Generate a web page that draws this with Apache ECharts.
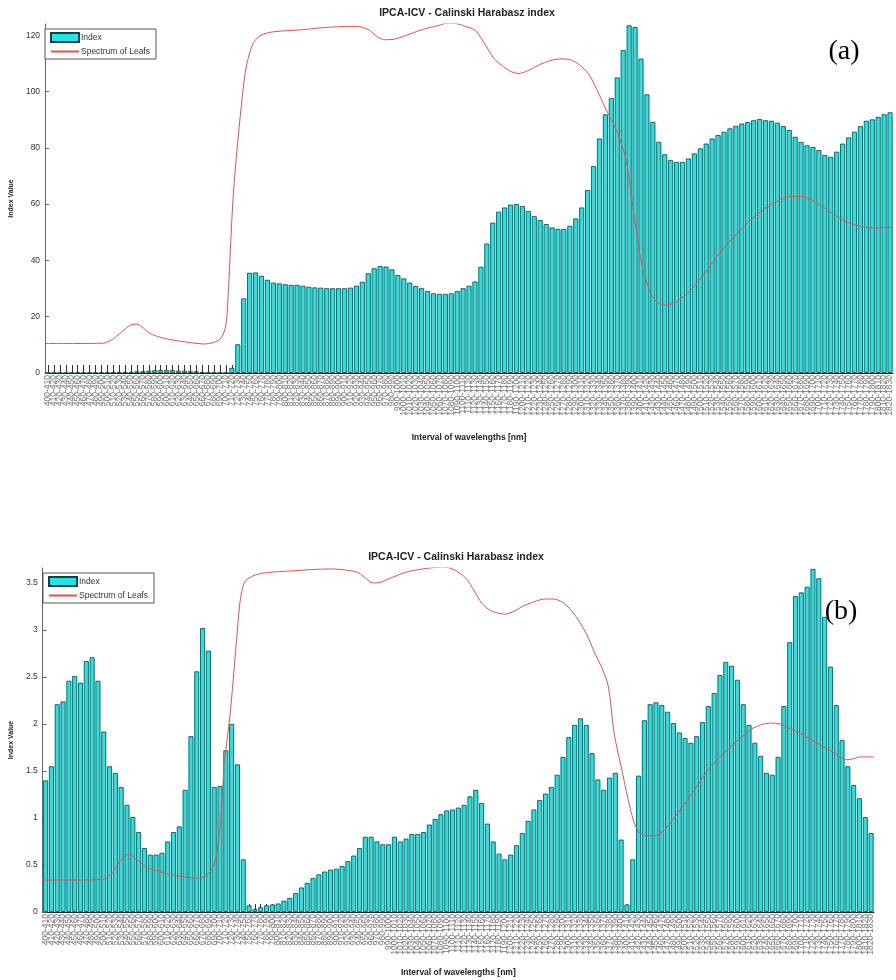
<!DOCTYPE html>
<html><head><meta charset="utf-8">
<script src="https://cdn.jsdelivr.net/npm/echarts@6/dist/echarts.min.js"></script>
<style>html,body{margin:0;padding:0;background:#fff}#c{width:896px;height:980px}</style>
</head><body><div id="c"></div>
<script>
// Wavelength intervals [nm] (category labels)
const categories = [
"400-410","410-420","420-430","430-440","440-450","450-460","460-470","470-480","480-490","490-500",
"500-510","510-520","520-530","530-540","540-550","550-560","560-570","570-580","580-590","590-600",
"600-610","610-620","620-630","630-640","640-650","650-660","660-670","670-680","680-690","690-700",
"700-710","710-720","720-730","730-740","740-750","750-760","760-770","770-780","780-790","790-800",
"800-810","810-820","820-830","830-840","840-850","850-860","860-870","870-880","880-890","890-900",
"900-910","910-920","920-930","930-940","940-950","950-960","960-970","970-980","980-990","990-1000",
"1000-1010","1010-1020","1020-1030","1030-1040","1040-1050","1050-1060","1060-1070","1070-1080","1080-1090","1090-1100",
"1100-1110","1110-1120","1120-1130","1130-1140","1140-1150","1150-1160","1160-1170","1170-1180","1180-1190","1190-1200",
"1200-1210","1210-1220","1220-1230","1230-1240","1240-1250","1250-1260","1260-1270","1270-1280","1280-1290","1290-1300",
"1300-1310","1310-1320","1320-1330","1330-1340","1340-1350","1350-1360","1360-1370","1370-1380","1380-1390","1390-1400",
"1400-1410","1410-1420","1420-1430","1430-1440","1440-1450","1450-1460","1460-1470","1470-1480","1480-1490","1490-1500",
"1500-1510","1510-1520","1520-1530","1530-1540","1540-1550","1550-1560","1560-1570","1570-1580","1580-1590","1590-1600",
"1600-1610","1610-1620","1620-1630","1630-1640","1640-1650","1650-1660","1660-1670","1670-1680","1680-1690","1690-1700",
"1700-1710","1710-1720","1720-1730","1730-1740","1740-1750","1750-1760","1760-1770","1770-1780","1780-1790","1790-1800",
"1800-1810","1810-1820","1820-1830"
];

// Panel (a) Calinski Harabasz index values
const indexA = [
0.1,0.1,0.1,0.1,0.1,0.1,0.1,0.1,0.1,0.1,
0.2,0.2,0.2,0.4,0.4,0.6,0.6,0.8,1.0,1.0,
1.0,1.0,0.8,0.8,0.6,0.6,0.3,0.1,0.1,0.1,
0.1,1.8,10.2,26.5,35.6,35.7,34.5,33.1,32.1,31.8,
31.5,31.3,31.3,31.0,30.6,30.4,30.3,30.1,30.1,30.1,
30.1,30.3,31.0,32.4,35.4,37.2,38.0,37.8,36.8,34.8,
33.6,32.1,30.9,30.1,29.1,28.3,28.1,28.1,28.3,29.1,
30.1,31.0,32.5,37.7,46.0,53.4,57.3,58.8,59.8,60.0,
59.3,57.6,55.7,54.3,52.9,51.7,51.2,51.2,52.3,54.9,
58.8,65.0,73.5,83.3,91.9,97.7,105.0,114.7,123.5,122.9,
111.7,99.0,89.2,82.1,77.7,75.6,75.0,75.0,76.2,78.0,
79.8,81.5,83.3,84.5,85.7,86.9,87.8,88.6,89.2,89.8,
90.2,89.8,89.6,88.9,87.7,86.3,83.9,82.1,80.9,80.3,
79.2,77.4,76.8,78.6,81.5,83.7,85.7,87.7,89.6,90.1,
91.0,91.9,92.6
];

// Panel (b) Calinski Harabasz index values
const indexB = [
1.40,1.55,2.21,2.24,2.46,2.51,2.44,2.67,2.71,2.46,
1.92,1.55,1.48,1.33,1.14,1.01,0.85,0.68,0.61,0.61,
0.63,0.75,0.85,0.91,1.30,1.87,2.56,3.02,2.78,1.33,
1.34,1.72,2.00,1.57,0.56,0.07,0.03,0.05,0.07,0.08,
0.09,0.12,0.15,0.20,0.26,0.31,0.36,0.40,0.43,0.45,
0.46,0.49,0.54,0.60,0.68,0.80,0.80,0.75,0.72,0.72,
0.80,0.75,0.78,0.83,0.83,0.85,0.93,0.99,1.04,1.08,
1.09,1.11,1.14,1.23,1.30,1.16,0.94,0.75,0.62,0.56,
0.61,0.71,0.84,0.97,1.09,1.19,1.26,1.33,1.46,1.65,
1.86,1.99,2.06,1.99,1.69,1.41,1.30,1.43,1.48,0.77,
0.08,0.56,1.45,2.04,2.21,2.23,2.20,2.13,2.01,1.91,
1.85,1.80,1.87,2.02,2.19,2.33,2.52,2.66,2.62,2.47,
2.21,1.99,1.80,1.66,1.48,1.46,1.65,2.19,2.87,3.36,
3.40,3.46,3.65,3.55,3.14,2.61,2.20,1.83,1.55,1.35,
1.21,1.01,0.84
];

// Spectrum of leafs, panel (a): wavelength [nm] and value (in index units)
const spectrumA_nm = [400,449,499,516,533,544,555,566,577,594,616,645,667,684,695,703,707,717,724,731,737,744,752,764,784,835,868,924,947,960,974,989,1002,1036,1064,1078,1092,1108,1125,1137,1148,1158,1170,1184,1198,1212,1226,1242,1260,1276,1288,1301,1316,1330,1344,1355,1366,1380,1392,1405,1419,1432,1447,1464,1489,1514,1539,1573,1606,1632,1657,1674,1699,1724,1749,1774,1799,1830];
const spectrumA    = [10.5,10.5,10.6,12.3,15.3,17.0,17.4,15.9,14.1,12.7,11.7,10.8,10.3,10.8,12.0,15.3,21.0,62,80,95,106,113,117.5,120,121.2,122,122.7,123.2,121.8,119.5,118.4,118.6,119.4,122,123.5,124.3,124.2,123.2,121.8,118.5,114.7,111.5,109.3,107.3,106.4,107.2,108.7,110.3,111.4,111.6,111.1,109.5,106.4,101,94.5,90,85.1,75.6,57.9,40.1,29.5,25.2,24.1,25.2,29.5,35.9,43,50.8,57.2,60.7,62.8,62.8,60.7,57.2,54,52.2,51.5,51.8];

// Spectrum of leafs, panel (b)
const spectrumB_nm = [400,455,505,520,534,548,561,575,585,606,625,647,665,682,693,700,705,709,713,722,733,739,744,750,773,831,893,939,954,968,982,997,1028,1065,1091,1108,1128,1142,1156,1173,1196,1211,1225,1245,1264,1279,1293,1306,1321,1336,1350,1361,1373,1383,1395,1407,1418,1429,1443,1458,1475,1491,1509,1529,1549,1570,1589,1618,1635,1652,1669,1686,1703,1720,1737,1760,1783,1794,1806,1830];
const spectrumB    = [0.34,0.34,0.35,0.42,0.55,0.62,0.56,0.49,0.46,0.42,0.39,0.37,0.36,0.39,0.48,0.65,0.91,1.25,1.62,2.08,2.86,3.28,3.45,3.53,3.60,3.63,3.65,3.62,3.56,3.50,3.51,3.55,3.62,3.66,3.67,3.64,3.55,3.42,3.28,3.20,3.17,3.20,3.25,3.30,3.33,3.33,3.30,3.23,3.11,2.95,2.75,2.61,2.40,1.90,1.55,1.20,0.94,0.83,0.81,0.82,0.91,1.04,1.19,1.37,1.55,1.68,1.79,1.94,1.99,2.01,2.00,1.95,1.90,1.84,1.78,1.70,1.62,1.63,1.65,1.65];

const yTicksA = [0,20,40,60,80,100,120];
const yTicksB = [0,0.5,1,1.5,2,2.5,3,3.5];
const titleText = 'IPCA-ICV - Calinski Harabasz index';
const seriesNames = ['Index','Spectrum of Leafs'];
const xName = 'Interval of wavelengths [nm]';
const yName = 'Index Value';

const FF = '"Liberation Sans", Arial, sans-serif';
const zip = (xs, ys) => xs.map((x, i) => [x, ys[i]]);

function catAxis(grid, gap) {
  return {
    type: 'category', gridIndex: grid, data: categories,
    name: xName, nameLocation: 'middle', nameGap: gap,
    nameTextStyle: {fontFamily: FF, fontWeight: 'bold', fontSize: 8.5, color: '#222'},
    axisLine: {lineStyle: {color: '#222', width: 1}},
    axisTick: {show: true, inside: true, length: 8, interval: 0, alignWithLabel: true, lineStyle: {color: '#333', width: 1}},
    axisLabel: {interval: 0, rotate: 90, fontSize: 8.5, margin: 2, color: '#777', fontFamily: FF},
    splitLine: {show: false}
  };
}
function valX(grid) {
  return {type: 'value', gridIndex: grid, min: 400, max: 1830, show: false};
}
function valY(grid, max, interval, ticks, gap) {
  return {
    type: 'value', gridIndex: grid, min: 0, max: max, interval: interval,
    name: yName, nameLocation: 'middle', nameGap: gap, nameRotate: 90,
    nameTextStyle: {fontFamily: FF, fontWeight: 'bold', fontSize: 7, color: '#222'},
    axisLine: {show: true, lineStyle: {color: '#666'}},
    axisTick: {show: true, inside: true, length: 4, customValues: ticks, lineStyle: {color: '#666'}},
    axisLabel: {customValues: ticks, fontSize: 8.5, color: '#333', margin: 5, fontFamily: FF},
    splitLine: {show: false}
  };
}
function legend(left, top) {
  return {
    left: left, top: top, orient: 'vertical', selectedMode: false,
    data: [
      {name: seriesNames[0], icon: 'rect'},
      {name: seriesNames[1], itemStyle: {opacity: 0}}
    ],
    itemWidth: 28, itemHeight: 9, itemGap: 4,
    padding: [3, 6, 3, 5],
    borderColor: '#555', borderWidth: 1, backgroundColor: '#fff',
    textStyle: {fontSize: 8.5, color: '#333', fontFamily: FF, padding: [0, 0, 0, -3]}
  };
}
const barStyle = {color: '#1fe6e6', borderColor: '#163c3c', borderWidth: 0.8};
const lineStyle = {color: '#e0524f', width: 1};

const option = {
  animation: false,
  backgroundColor: '#fff',
  grid: [
    {left: 41, top: 24, width: 852, height: 349},
    {left: 38, top: 568, width: 836, height: 344}
  ],
  xAxis: [catAxis(0, 60), valX(0), catAxis(1, 56), valX(1)],
  yAxis: [valY(0, 124, 20, yTicksA, 24), valY(1, 3.66, 0.5, yTicksB, 21)],
  legend: [legend(45, 29), legend(43, 573)],
  graphic: [
    {type: 'text', x: 467, y: 13, style: {text: titleText, fontFamily: FF, fontWeight: 'bold', fontSize: 10.5, fill: '#222', align: 'center', verticalAlign: 'middle'}},
    {type: 'text', x: 456, y: 557, style: {text: titleText, fontFamily: FF, fontWeight: 'bold', fontSize: 10.5, fill: '#222', align: 'center', verticalAlign: 'middle'}},
    {type: 'text', x: 844, y: 52, z: 100, style: {text: '(a)', fontFamily: '"Liberation Serif", "Times New Roman", serif', fontSize: 28, fill: '#000', align: 'center', verticalAlign: 'middle'}},
    {type: 'text', x: 841, y: 612, z: 100, style: {text: '(b)', fontFamily: '"Liberation Serif", "Times New Roman", serif', fontSize: 28, fill: '#000', align: 'center', verticalAlign: 'middle'}}
  ],
  series: [
    {name: seriesNames[0], type: 'bar', xAxisIndex: 0, yAxisIndex: 0, data: indexA, barCategoryGap: '15%', itemStyle: barStyle},
    {name: seriesNames[1], type: 'line', xAxisIndex: 1, yAxisIndex: 0, data: zip(spectrumA_nm, spectrumA), symbol: 'none', smooth: 0.3, clip: true, lineStyle: lineStyle, itemStyle: {color: lineStyle.color}, z: 5},
    {name: seriesNames[0], type: 'bar', xAxisIndex: 2, yAxisIndex: 1, data: indexB, barCategoryGap: '15%', itemStyle: barStyle},
    {name: seriesNames[1], type: 'line', xAxisIndex: 3, yAxisIndex: 1, data: zip(spectrumB_nm, spectrumB), symbol: 'none', smooth: 0.3, clip: true, lineStyle: lineStyle, itemStyle: {color: lineStyle.color}, z: 5}
  ]
};
const chart = echarts.init(document.getElementById('c'));
chart.setOption(option);
</script>
</body></html>
